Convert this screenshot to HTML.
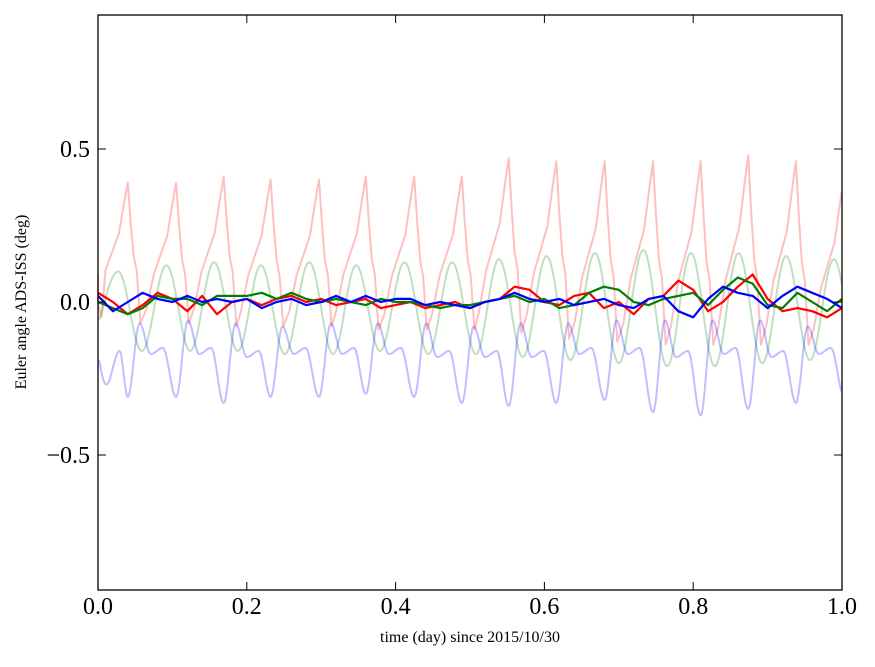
<!DOCTYPE html>
<html><head><meta charset="utf-8"><style>
body{margin:0;background:#fff;}
svg text{font-family:"Liberation Serif",serif;}
</style></head><body>
<svg id="chart" width="875" height="662" viewBox="0 0 875 662">
<rect x="0" y="0" width="875" height="662" fill="#fff"/>
<g id="marks"></g>
<rect x="98" y="15" width="744" height="575" fill="none" stroke="#000" stroke-width="1.3"/>
<g id="axes"></g>
<text x="470" y="642" font-size="16" text-anchor="middle">time (day) since 2015/10/30</text>
<text x="0" y="0" font-size="16" text-anchor="middle" transform="translate(26,302) rotate(-90)">Euler angle ADS-ISS (deg)</text>
</svg>
<script>
const xTicks=[0,0.2,0.4,0.6,0.8,1.0];
const xTickLabels=["0.0","0.2","0.4","0.6","0.8","1.0"];
const yTicks=[-0.5,0,0.5];
const yTickLabels=["\u22120.5","0.0","0.5"];
const orbitTimes=[0.040,0.105,0.169,0.232,0.297,0.360,0.425,0.489,0.552,0.616,0.681,0.746,0.810,0.874,0.938,1.002];
const redPeaks=[0.39,0.39,0.41,0.40,0.40,0.41,0.41,0.41,0.47,0.46,0.46,0.46,0.46,0.48,0.46,0.40];
const redTroughs=[-0.07,-0.07,-0.08,-0.08,-0.08,-0.09,-0.09,-0.09,-0.10,-0.12,-0.13,-0.14,-0.14,-0.14,-0.14,-0.12];
const greenPeaks=[0.10,0.12,0.13,0.12,0.13,0.12,0.13,0.13,0.14,0.15,0.16,0.17,0.16,0.16,0.15,0.14];
const greenTroughs=[-0.16,-0.16,-0.16,-0.17,-0.17,-0.16,-0.17,-0.17,-0.18,-0.19,-0.20,-0.21,-0.21,-0.20,-0.19,-0.18];
const blueDeep=[-0.31,-0.31,-0.33,-0.31,-0.31,-0.30,-0.31,-0.33,-0.34,-0.33,-0.32,-0.36,-0.37,-0.35,-0.33,-0.30];
const bluePeaks=[-0.07,-0.06,-0.07,-0.08,-0.07,-0.07,-0.07,-0.08,-0.07,-0.07,-0.06,-0.06,-0.06,-0.06,-0.08,-0.07];
const blueMid=[-0.17,-0.17,-0.18,-0.17,-0.17,-0.17,-0.18,-0.18,-0.18,-0.17,-0.17,-0.18,-0.17,-0.18,-0.17,-0.17];
const darkTimes=[0,0.02,0.04,0.06,0.08,0.10,0.12,0.14,0.16,0.18,0.20,0.22,0.24,0.26,0.28,0.30,0.32,0.34,0.36,0.38,0.40,0.42,0.44,0.46,0.48,0.50,0.52,0.54,0.56,0.58,0.60,0.62,0.64,0.66,0.68,0.70,0.72,0.74,0.76,0.78,0.80,0.82,0.84,0.86,0.88,0.90,0.92,0.94,0.96,0.98,1.0];
const redDark=[0.03,0.00,-0.04,-0.01,0.03,0.01,-0.03,0.02,-0.04,0.00,0.01,-0.01,0.01,0.02,0.00,0.01,-0.01,0.00,0.01,-0.02,-0.01,0.00,-0.02,-0.01,0.00,-0.02,0.00,0.01,0.05,0.04,0.00,-0.01,0.02,0.03,-0.02,0.00,-0.04,0.01,0.02,0.07,0.04,-0.03,0.00,0.05,0.09,0.01,-0.03,-0.02,-0.03,-0.05,-0.02];
const greenDark=[0.00,-0.02,-0.04,-0.02,0.02,0.01,0.01,-0.01,0.02,0.02,0.02,0.03,0.01,0.03,0.01,0.00,0.01,0.00,-0.01,0.01,0.00,0.00,-0.01,-0.02,-0.01,-0.01,0.00,0.01,0.02,0.00,0.01,-0.02,-0.01,0.03,0.05,0.04,0.00,-0.01,0.01,0.02,0.03,-0.01,0.04,0.08,0.06,-0.01,-0.02,0.03,0.00,-0.03,0.01];
const blueDark=[0.02,-0.03,0.00,0.03,0.01,0.00,0.02,0.00,0.01,0.00,0.01,-0.02,0.00,0.01,-0.01,0.00,0.02,0.00,0.02,0.00,0.01,0.01,-0.01,0.00,-0.01,-0.02,0.00,0.01,0.03,0.01,0.00,0.01,-0.01,0.00,0.01,-0.01,-0.02,0.01,0.02,-0.03,-0.05,0.01,0.05,0.03,0.02,-0.02,0.02,0.05,0.03,0.01,-0.02];

const X0=98,X1=842,Y0=302,YS=306;
function sx(t){return X0+t*(X1-X0);}
function sy(v){return Y0-v*YS;}
const NS="http://www.w3.org/2000/svg";
const marks=document.getElementById('marks');
const axes=document.getElementById('axes');

function smoothPath(pts,linear){
  pts.sort((a,b)=>a[0]-b[0]);
  let d="";
  for(let i=0;i<pts.length-1;i++){
    const [t0,v0]=pts[i],[t1,v1]=pts[i+1];
    const n=Math.max(2,Math.round((t1-t0)/0.0012));
    for(let k=(i==0?0:1);k<=n;k++){
      const f=k/n,w=linear?f:(1-Math.cos(Math.PI*f))/2;
      const t=t0+(t1-t0)*f,v=v0+(v1-v0)*w;
      if(t<0||t>1) continue;
      d+=(d?"L":"M")+sx(t).toFixed(1)+","+sy(v).toFixed(1);
    }
  }
  return d;
}
function linePath(ts,vs){
  let d="";
  for(let i=0;i<ts.length;i++){d+=(i?"L":"M")+sx(ts[i]).toFixed(1)+","+sy(vs[i]).toFixed(1);}
  return d;
}
function addPath(d,color,op,w,name){
  const p=document.createElementNS(NS,'path');
  p.setAttribute('d',d);p.setAttribute('fill','none');p.setAttribute('stroke',color);
  p.setAttribute('stroke-opacity',op);p.setAttribute('stroke-width',w);p.setAttribute('stroke-linejoin','round');
  
  
  marks.appendChild(p);
}
// light red
let rp=[[0,0.09],[0.005,-0.05]];
orbitTimes.forEach((tp,i)=>{
  const pk=redPeaks[i],tr=redTroughs[i],pt=i>0?redTroughs[i-1]:-0.05;
  [[-0.040,0.1],[-0.030,0.35],[-0.020,0.5],[-0.012,0.62],[-0.005,0.85],[0,1],[0.004,0.7],[0.008,0.45],[0.012,0.35]].forEach(([o,f])=>rp.push([tp+o,pt+f*(pk-pt)]));
  rp.push([tp+0.017,tr]);
});
addPath(smoothPath(rp,true),'#ff0000',0.25,2,'red-reference-series');
// light green
let gp=[[-0.01,-0.1]];
orbitTimes.forEach((tp,i)=>{gp.push([tp-0.013,greenPeaks[i]]);gp.push([tp+0.019,greenTroughs[i]]);});
addPath(smoothPath(gp),'#008000',0.25,2,'green-reference-series');
// light blue
let bp=[[-0.005,-0.15],[0.011,-0.27],[0.029,-0.16]];
orbitTimes.forEach((tp,i)=>{bp.push([tp,blueDeep[i]]);bp.push([tp+0.016,bluePeaks[i]]);bp.push([tp+0.031,blueMid[i]]);bp.push([tp+0.047,blueMid[i]+0.02]);});
addPath(smoothPath(bp),'#0000ff',0.25,2,'blue-reference-series');
// dark series
addPath(linePath(darkTimes,redDark),'#ff0000',1,2.2,'red-series');
addPath(linePath(darkTimes,greenDark),'#008000',1,2.2,'green-series');
addPath(linePath(darkTimes,blueDark),'#0000ff',1,2.2,'blue-series');

// ticks
xTicks.forEach((t,i)=>{
  const x=sx(t);
  const l1=document.createElementNS(NS,'path');
  l1.setAttribute('d',`M${x},590V582M${x},15V23`);l1.setAttribute('stroke','#000');
  
  
  axes.appendChild(l1);
  const tx=document.createElementNS(NS,'text');
  tx.setAttribute('x',x);tx.setAttribute('y',614);tx.setAttribute('font-size','24');tx.setAttribute('text-anchor','middle');
  tx.textContent=xTickLabels[i];
  
  
  axes.appendChild(tx);
});
yTicks.forEach((v,i)=>{
  const y=sy(v);
  const l1=document.createElementNS(NS,'path');
  l1.setAttribute('d',`M98,${y}H106M842,${y}H834`);l1.setAttribute('stroke','#000');
  
  
  axes.appendChild(l1);
  const tx=document.createElementNS(NS,'text');
  tx.setAttribute('x',90);tx.setAttribute('y',y+8);tx.setAttribute('font-size','24');tx.setAttribute('text-anchor','end');
  tx.textContent=yTickLabels[i];
  
  
  axes.appendChild(tx);
});
</script>
</body></html>
